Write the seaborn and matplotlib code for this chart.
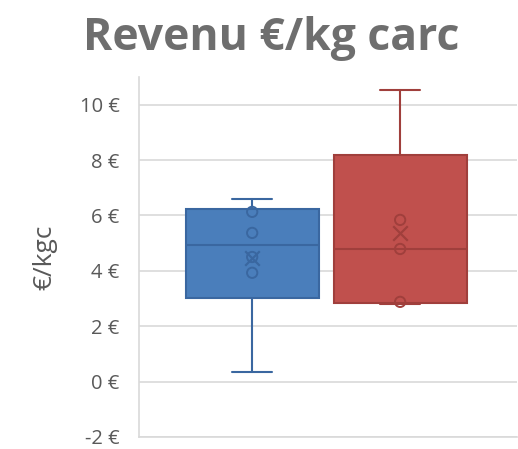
import numpy as np
import pandas as pd
import matplotlib
matplotlib.use("Agg")
import matplotlib.pyplot as plt
import seaborn as sns

# ---- data ----
series_names = ["Série 1", "Série 2"]
blue_values = [0.36, 3.93, 4.5, 5.37, 6.13, 6.6]
red_values = [2.8, 2.88, 4.79, 5.84, 10.52]
y_ticks = [-2, 0, 2, 4, 6, 8, 10]
title_text = "Revenu €/kg carc"
y_label = "€/kgc"

face_colors = ["#4A7EBB", "#C0504D"]
edge_colors = ["#3A67A0", "#A03F3C"]

sns.set_theme(style="white")
plt.rcParams['font.family'] = ['Open Sans', 'DejaVu Sans']

fig = plt.figure(figsize=(5.18, 4.49), dpi=100)
ax = fig.add_axes([139/518, 12/449, 378/518, 360/449])

all_values = [blue_values, red_values]
stats = []
for name, vals in zip(series_names, all_values):
    v = np.array(vals, dtype=float)
    q1, med, q3 = np.percentile(v, [25, 50, 75], method="weibull")
    stats.append(dict(label=name, med=med, q1=q1, q3=q3,
                      whislo=v.min(), whishi=v.max(), mean=v.mean(), fliers=[]))

positions = list(range(len(stats)))
bp = ax.bxp(stats, positions=positions, widths=0.9, capwidths=0.27,
            patch_artist=True, showmeans=False, showfliers=False,
            manage_ticks=False)
for i, box in enumerate(bp["boxes"]):
    box.set_facecolor(face_colors[i])
    box.set_edgecolor(edge_colors[i])
    box.set_linewidth(1.5)
    box.set_zorder(3)
for i, med in enumerate(bp["medians"]):
    med.set_color(edge_colors[i]); med.set_linewidth(1.5); med.set_zorder(4)
for i in range(len(stats)):
    for ln in bp["whiskers"][2*i:2*i+2] + bp["caps"][2*i:2*i+2]:
        ln.set_color(edge_colors[i]); ln.set_linewidth(1.5); ln.set_zorder(2)

# inner points and means via seaborn
rows = []
for i, (name, vals) in enumerate(zip(series_names, all_values)):
    for val in sorted(vals)[1:-1]:
        rows.append(dict(pos=i, value=val, serie=name))
pts = pd.DataFrame(rows)
for i, name in enumerate(series_names):
    sub = pts[pts.serie == name]
    sns.scatterplot(data=sub, x="pos", y="value", ax=ax, marker="o", s=55,
                    facecolor="none", edgecolor=edge_colors[i], linewidth=1.4,
                    zorder=5, legend=False)
means = pd.DataFrame(dict(pos=positions, value=[s["mean"] for s in stats]))
for i in range(len(stats)):
    sns.scatterplot(data=means.iloc[[i]], x="pos", y="value", ax=ax, marker="x",
                    s=110, color=edge_colors[i], linewidth=1.6, zorder=5, legend=False)

ax.set_xlim(-0.765, 1.79)
ax.set_ylim(-2, 11)
ax.set_yticks(y_ticks)
ax.set_yticklabels([f"{t} €" for t in y_ticks])
ax.set_xticks([])
ax.set_xlabel("")
ax.set_ylabel(y_label, fontsize=19, color="#595959", labelpad=16)
ax.tick_params(axis="y", length=0, pad=14, labelsize=14.5, labelcolor="#595959")
ax.grid(axis="y", color="#D9D9D9", linewidth=1.2)
ax.set_axisbelow(True)
for s in ["top", "right"]:
    ax.spines[s].set_visible(False)
for s in ["left", "bottom"]:
    ax.spines[s].set_color("#D9D9D9")
    ax.spines[s].set_linewidth(1.2)

fig.text(271/518, 1 - 50/449, title_text, ha="center", va="baseline",
         fontsize=32, fontweight="bold", color="#6E6E6E")

fig.savefig("out.png", dpi=100)
